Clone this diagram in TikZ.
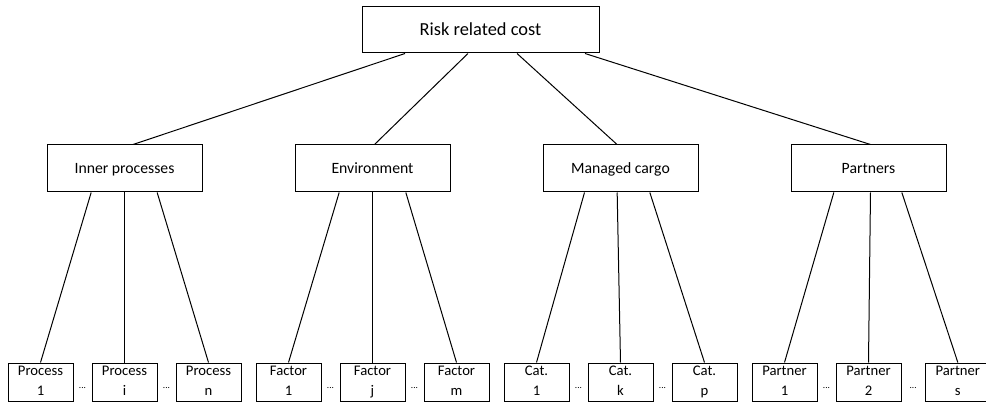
\documentclass[tikz,border=0pt]{standalone}
\usepackage{fontspec}
\setmainfont{Carlito}
\usetikzlibrary{positioning}

\begin{document}
\begin{tikzpicture}[
    x=0.75pt, y=-0.75pt,
    node distance=69pt,
    box/.style={rectangle, draw, line width=0.75pt},
    rootbox/.style={box, minimum width=177.75pt, minimum height=34.5pt, font=\fontsize{13.8}{16}\selectfont,
        text height=11pt, text depth=2.1pt},
    groupbox/.style={box, minimum width=116.25pt, minimum height=35.25pt, font=\fontsize{11.8}{14}\selectfont,
        text height=9.5pt, text depth=2pt},
    leafbox/.style={box, minimum width=48.75pt, minimum height=29pt, align=center, inner xsep=1pt, inner ysep=0pt,
        font=\fontsize{11}{15}\selectfont,
        execute at begin node={\rule{0pt}{11pt}}, execute at end node={\rule[-2.5pt]{0pt}{2.5pt}}},
    dots/.style={font=\scriptsize, inner sep=0pt, yshift=-4pt},
    link/.style={line width=0.75pt}
]
    \useasboundingbox (0,0) rectangle (986,406);

    \node[rootbox] (risk) at (480.5,30) {Risk related cost};

    \node[groupbox] (inner) at (124.5,168.5) {Inner processes};
    \node[groupbox, right=of inner] (env) {Environment};
    \node[groupbox, right=of env] (cargo) {Managed cargo};
    \node[groupbox, right=of cargo] (partners) {Partners};

    % leaves
    \node[leafbox, below=127.5pt of inner] (proci) {Process\\i};
    \node[leafbox, left=13.5pt of proci] (proc1) {Process\\1};
    \node[leafbox, right=13.5pt of proci] (procn) {Process\\n};

    \node[leafbox, below=127.5pt of env] (factj) {Factor\\j};
    \node[leafbox, left=13.5pt of factj] (fact1) {Factor\\1};
    \node[leafbox, right=13.5pt of factj] (factm) {Factor\\m};

    \node[leafbox, below=127.5pt of cargo] (catk) {Cat.\\k};
    \node[leafbox, left=13.5pt of catk] (cat1) {Cat.\\1};
    \node[leafbox, right=13.5pt of catk] (catp) {Cat.\\p};

    \node[leafbox, below=127.5pt of partners] (part2) {Partner\\2};
    \node[leafbox, left=13.5pt of part2] (part1) {Partner\\1};
    \node[leafbox, right=17.5pt of part2] (parts) {Partner\\s};

    % dots between leaves
    \path (proc1) -- node[dots] {...} (proci);
    \path (proci) -- node[dots] {...} (procn);
    \path (fact1) -- node[dots] {...} (factj);
    \path (factj) -- node[dots] {...} (factm);
    \path (cat1) -- node[dots] {...} (catk);
    \path (catk) -- node[dots] {...} (catp);
    \path (part1) -- node[dots] {...} (part2);
    \path (part2) -- node[dots] {...} (parts);

    % top links
    \draw[link] ([xshift=-56.6pt]risk.south) -- ([xshift=6.4pt]inner.north);
    \draw[link] ([xshift=-9.4pt]risk.south) -- ([xshift=1.5pt]env.north);
    \draw[link] ([xshift=27.4pt]risk.south) -- ([xshift=-2.6pt]cargo.north);
    \draw[link] ([xshift=78.4pt]risk.south) -- ([xshift=1.5pt]partners.north);

    % lower links
    \draw[link] ([xshift=-25pt]inner.south) -- (proc1.north);
    \draw[link] (inner.south) -- (proci.north);
    \draw[link] ([xshift=24.5pt]inner.south) -- (procn.north);
    \draw[link] ([xshift=-25pt]env.south) -- (fact1.north);
    \draw[link] (env.south) -- (factj.north);
    \draw[link] ([xshift=25pt]env.south) -- (factm.north);
    \draw[link] ([xshift=-27pt]cargo.south) -- (cat1.north);
    \draw[link] ([xshift=-2.5pt]cargo.south) -- (catk.north);
    \draw[link] ([xshift=22pt]cargo.south) -- (catp.north);
    \draw[link] ([xshift=-26pt]partners.south) -- (part1.north);
    \draw[link] ([xshift=1.5pt]partners.south) -- (part2.north);
    \draw[link] ([xshift=25pt]partners.south) -- (parts.north);
\end{tikzpicture}
\end{document}
